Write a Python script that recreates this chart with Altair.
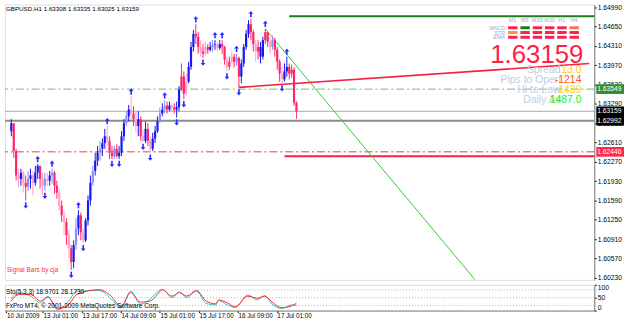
import altair as alt
import pandas as pd

FONT = "Liberation Sans"

# ---------------- price data: GBPUSD H1 (one entry per bar) ----------------
first_open = 1.6281
high = [1.6302, 1.6295, 1.6250, 1.6215, 1.6215, 1.6211, 1.6203, 1.6211, 1.6215, 1.6211,
        1.6220, 1.6223, 1.6220, 1.6208, 1.6208, 1.6208, 1.6211, 1.6215, 1.6211, 1.6194,
        1.6180, 1.6159, 1.6142, 1.6128, 1.6107, 1.6081, 1.6089, 1.6128, 1.6142, 1.6138,
        1.6110, 1.6128, 1.6168, 1.6203, 1.6220, 1.6243, 1.6255, 1.6264, 1.6268, 1.6285,
        1.6290, 1.6272, 1.6255, 1.6255, 1.6258, 1.6255, 1.6281, 1.6302, 1.6316, 1.6327,
        1.6342, 1.6325, 1.6316, 1.6316, 1.6307, 1.6285, 1.6298, 1.6295, 1.6272, 1.6278,
        1.6290, 1.6307, 1.6323, 1.6330, 1.6335, 1.6333, 1.6333, 1.6330, 1.6330, 1.6333,
        1.6360, 1.6400, 1.6386, 1.6382, 1.6403, 1.6438, 1.6459, 1.6469, 1.6455, 1.6441,
        1.6434, 1.6438, 1.6434, 1.6438, 1.6441, 1.6441, 1.6438, 1.6441, 1.6441, 1.6431,
        1.6412, 1.6412, 1.6421, 1.6417, 1.6417, 1.6412, 1.6407, 1.6434, 1.6459, 1.6476,
        1.6478, 1.6459, 1.6441, 1.6441, 1.6438, 1.6447, 1.6461, 1.6455, 1.6447, 1.6449,
        1.6445, 1.6429, 1.6407, 1.6394, 1.6400, 1.6412, 1.6400, 1.6398, 1.6393, 1.63335]
low = [1.6272, 1.6234, 1.6194, 1.6182, 1.6185, 1.6173, 1.6159, 1.6176, 1.6180, 1.6168,
       1.6185, 1.6197, 1.6180, 1.6168, 1.6176, 1.6185, 1.6185, 1.6189, 1.6171, 1.6162,
       1.6142, 1.6121, 1.6098, 1.6081, 1.6058, 1.6037, 1.6040, 1.6072, 1.6098, 1.6089,
       1.6084, 1.6086, 1.6115, 1.6150, 1.6185, 1.6203, 1.6220, 1.6229, 1.6237, 1.6250,
       1.6255, 1.6232, 1.6232, 1.6232, 1.6234, 1.6232, 1.6237, 1.6264, 1.6290, 1.6298,
       1.6302, 1.6290, 1.6278, 1.6272, 1.6264, 1.6262, 1.6260, 1.6255, 1.6243, 1.6246,
       1.6260, 1.6278, 1.6295, 1.6307, 1.6312, 1.6312, 1.6316, 1.6316, 1.6312, 1.6305,
       1.6316, 1.6351, 1.6337, 1.6344, 1.6365, 1.6389, 1.6421, 1.6434, 1.6417, 1.6412,
       1.6410, 1.6414, 1.6417, 1.6421, 1.6421, 1.6424, 1.6421, 1.6424, 1.6417, 1.6398,
       1.6386, 1.6389, 1.6400, 1.6393, 1.6396, 1.6358, 1.6365, 1.6394, 1.6424, 1.6445,
       1.6441, 1.6421, 1.6403, 1.6407, 1.6400, 1.6407, 1.6434, 1.6429, 1.6417, 1.6424,
       1.6412, 1.6389, 1.6368, 1.6365, 1.6368, 1.6377, 1.6372, 1.6375, 1.6326, 1.63025]
close = [1.6295, 1.6246, 1.6203, 1.6197, 1.6208, 1.6190, 1.6183, 1.6197, 1.6203, 1.6190,
         1.6208, 1.6220, 1.6197, 1.6185, 1.6197, 1.6194, 1.6203, 1.6208, 1.6185, 1.6173,
         1.6150, 1.6133, 1.6121, 1.6098, 1.6075, 1.6051, 1.6081, 1.6110, 1.6133, 1.6103,
         1.6089, 1.6124, 1.6159, 1.6190, 1.6211, 1.6229, 1.6243, 1.6250, 1.6260, 1.6272,
         1.6264, 1.6243, 1.6237, 1.6250, 1.6237, 1.6243, 1.6272, 1.6295, 1.6307, 1.6319,
         1.6312, 1.6302, 1.6290, 1.6302, 1.6272, 1.6264, 1.6285, 1.6264, 1.6250, 1.6268,
         1.6281, 1.6298, 1.6312, 1.6319, 1.6326, 1.6319, 1.6326, 1.6323, 1.6319, 1.6323,
         1.6354, 1.6377, 1.6347, 1.6368, 1.6394, 1.6429, 1.6452, 1.6447, 1.6429, 1.6421,
         1.6417, 1.6429, 1.6424, 1.6429, 1.6433, 1.6434, 1.6427, 1.6434, 1.6429, 1.6407,
         1.6394, 1.6403, 1.6412, 1.6403, 1.6410, 1.6377, 1.6400, 1.6429, 1.6452, 1.6469,
         1.6455, 1.6434, 1.6421, 1.6429, 1.6412, 1.6441, 1.6455, 1.6438, 1.6429, 1.6441,
         1.6424, 1.6403, 1.6382, 1.6372, 1.6386, 1.6394, 1.6382, 1.6389, 1.63308, 1.63159]

# Signal Bars colour per bar: B strong up, b weak up, P strong down, p weak down
signal = list("BPPpBpPbBp" "BBPpbpBbPP" "pPpPpPBbBP" "pBBBbBBbBB"
              "pPPbPBBBbB" "pPpBPpBPpB" "BBbBbPBpPB" "BPPpBBBPPp"
              "PpPBbBpBPP" "pPpPbPBBBB" "PPpPBBPPpb" "PPPpBBPPPP")

up_fractals = [11, 17, 28, 40, 50, 64, 77, 85, 88, 94, 100, 106, 115]
down_fractals = [6, 14, 25, 30, 42, 45, 55, 58, 69, 72, 80, 90, 95, 113]

# Stochastic (5,3,3)
stoch_idx = [2, 5, 10, 14, 17, 21, 25, 29, 38, 43, 47, 51, 55, 59, 62, 64, 68, 71, 74, 78,
             82, 86, 87, 90, 94, 99, 103, 106, 109, 113, 117, 119]
stoch_red = [37, 63, 63, 37, 52, 7, 18, 63, 81, 56, 15, 70, 33, 37, 63, 81, 56, 70, 56, 78,
             37, 26, 41, 33, 15, 56, 48, 56, 33, 11, 18, 28.17]
stoch_cyan = [45, 70, 55, 30, 55, 3, 30, 75, 78, 45, 10, 75, 25, 45, 72, 82, 50, 72, 50, 75,
              28, 22, 40, 25, 12, 60, 42, 58, 25, 8, 22, 18.97]
stoch_levels = [80, 50, 20]

price_ticks = [1.64990, 1.64650, 1.64310, 1.63970, 1.63630, 1.63290, 1.62950, 1.62610,
               1.62270, 1.61930, 1.61590, 1.61250, 1.60910, 1.60570, 1.60230]
time_idx = [0, 15, 31, 47, 63, 79, 95, 111]
time_labels = ["10 Jul 2009", "13 Jul 01:00", "13 Jul 17:00", "14 Jul 09:00",
               "15 Jul 01:00", "15 Jul 17:00", "16 Jul 09:00", "17 Jul 01:00"]

# horizontal levels / objects
level_dark_green = 1.6483
level_dark_green_from = 116
level_green_dash = 1.63549
level_bid = 1.63159
level_gray = 1.62992
level_red_dash = 1.62446
level_red = 1.6237
level_red_from = 114
green_trend_i = [106, 193.5]
green_trend_p = [1.6461, 1.6020]
red_trend_i = [95, 241.27]
red_trend_p = [1.6358, 1.6400]

box_prices = [1.63549, 1.63159, 1.62992, 1.62446]
box_colors = ["#2f8f2f", "#000000", "#000000", "#ff2a4a"]

# info panel
tf_names = ["M1", "M5", "M15", "M30", "H1", "H4"]
ind_names = ["MACD", "STR", "EMA"]
grid_colors = [
    ["#ff2050", "#108010", "#ff2050", "#ff2050", "#ff2050", "#ff7060"],
    ["#ff9a20", "#ff2050", "#ff2050", "#ff2050", "#ff2050", "#ff2050"],
    ["#ff2050", "#ff2050", "#ff2050", "#ff2050", "#ff2050", "#ff2050"],
]
big_price = "1.63159"
info_labels = ["Spread", "Pips to Open", "Hi to Low", "Daily Av"]
info_values = ["13.0", "-1214", "1439", "1487.0"]
info_colors = ["#ffc820", "#ff5522", "#ffd21e", "#22ee22"]
title_text = "GBPUSD,H1  1.63308 1.63335 1.63025 1.63159"
signal_text = "Signal Bars by cja"
sto_text = "Sto(5,3,3) 18.9701 28.1730"
copy_text = "FxPro MT4, \u00a9 2001-2009 MetaQuotes Software Corp."

# ---------------- build ----------------
W, H_MAIN, H_STO = 595, 278, 26

n = len(close)
df = pd.DataFrame({"i": list(range(n)), "o": [first_open] + close[:-1], "h": high, "l": low,
                   "c": close, "sig": signal[:n]})

xscale = alt.Scale(domain=[-0.6, 241.27], nice=False, zero=False)
yscale = alt.Scale(domain=[1.60195, 1.65037], nice=False, zero=False)
yaxis = alt.Axis(orient="right", values=price_ticks, format=".5f", labelFont=FONT,
                 labelFontSize=6.8, labelColor="black", tickSize=2, tickColor="#000",
                 labelPadding=1, domainColor="#808080", grid=False, labelOverlap=False,
                 labelBaseline="middle", title=None)


def PX(f):
    return alt.X(f, type="quantitative", scale=xscale, axis=None, title=None)


def PY(f):
    return alt.Y(f, type="quantitative", scale=yscale, axis=yaxis, title=None)


one = alt.Data(values=[{}])
color_enc = alt.Color("sig:N", scale=alt.Scale(domain=["B", "b", "P", "p"],
                                               range=["#1818f0", "#8c8cff", "#ff2468", "#ffa0c4"]),
                      legend=None)

base = alt.Chart(df)
wicks = base.mark_rule(strokeWidth=1).encode(x=PX("i"), y=PY("l"), y2="h", color=color_enc)
bodies = base.mark_bar(size=2.2).encode(x=PX("i"), y=PY("o"), y2="c", color=color_enc)

up_df = df[df.i.isin(up_fractals)][["i", "h"]].rename(columns={"h": "p"})
dn_df = df[df.i.isin(down_fractals)][["i", "l"]].rename(columns={"l": "p"})
UP_SHAPE = "M0,-1 L0.75,-0.1 L0.25,-0.1 L0.25,1 L-0.25,1 L-0.25,-0.1 L-0.75,-0.1 Z"
DN_SHAPE = "M0,1 L0.75,0.1 L0.25,0.1 L0.25,-1 L-0.25,-1 L-0.25,0.1 L-0.75,0.1 Z"
up_arrows = alt.Chart(up_df).mark_point(shape=UP_SHAPE, filled=True, size=40, color="#2a2aff",
                                       opacity=1, yOffset=-5).encode(x=PX("i"), y=PY("p"))
dn_arrows = alt.Chart(dn_df).mark_point(shape=DN_SHAPE, filled=True, size=40, color="#2a2aff",
                                       opacity=1, yOffset=5).encode(x=PX("i"), y=PY("p"))


def hline(p, color, width=1, dash=None, start=None):
    d = {"p": [p]}
    kw = dict(color=color, strokeWidth=width)
    if dash:
        kw["strokeDash"] = dash
    enc = dict(y=PY("p"))
    if start is not None:
        d["x0"] = [start]
        enc["x"] = PX("x0")
        enc["x2"] = alt.value(W)
    return alt.Chart(pd.DataFrame(d)).mark_rule(**kw).encode(**enc)


lines = [
    hline(level_bid, "#a8a8a8", 1),
    hline(level_gray, "#8c8c8c", 2),
    hline(level_green_dash, "#6cc06c", 1, [8, 3, 2, 3]),
    hline(level_red_dash, "#e84040", 1, [8, 3, 2, 3]),
    hline(level_dark_green, "#1e7e1e", 2, None, level_dark_green_from),
    hline(level_red, "#f0204a", 2, None, level_red_from),
]

gtr = alt.Chart(pd.DataFrame({"i": green_trend_i, "p": green_trend_p})).mark_line(
    color="#2ecc2e", strokeWidth=1, clip=True).encode(x=PX("i"), y=PY("p"))
rtr = alt.Chart(pd.DataFrame({"i": red_trend_i, "p": red_trend_p})).mark_line(
    color="#f42040", strokeWidth=1.6, clip=True).encode(x=PX("i"), y=PY("p"))

bdf = pd.DataFrame({"p": box_prices, "bg": box_colors})
bdf["top"] = bdf.p + 0.00085
bdf["bot"] = bdf.p - 0.00085
bdf["label"] = [f"{p:.5f}" for p in box_prices]
boxes = alt.Chart(bdf).mark_rect().encode(
    y=PY("top"), y2="bot", x=alt.value(W + 2), x2=alt.value(W + 30),
    color=alt.Color("bg:N", scale=None))
box_txt = alt.Chart(bdf).mark_text(align="left", baseline="middle", font=FONT, fontSize=6.8,
                                   color="white").encode(x=alt.value(W + 3), y=PY("p"), text="label")


def txt(s, x, y, size, color, align="left", baseline="middle", weight="normal"):
    return alt.Chart(one).mark_text(align=align, baseline=baseline, font=FONT, fontSize=size,
                                    color=color, fontWeight=weight).encode(
        x=alt.value(x), y=alt.value(y), text=alt.value(s))


panel = []
for k, tf in enumerate(tf_names):
    panel.append(txt(tf, 512.5 + 12.4 * k, 16, 5.5, "#9fa8d0", align="center"))
for r, name in enumerate(ind_names):
    panel.append(txt(name, 505, 23.5 + 4.8 * r, 5.5, "#9fa8d0", align="right"))
    for k in range(len(tf_names)):
        x0 = 508 + 12.4 * k
        y0 = 22 + 4.8 * r
        panel.append(alt.Chart(one).mark_rect(color=grid_colors[r][k]).encode(
            x=alt.value(x0), x2=alt.value(x0 + 9.5), y=alt.value(y0), y2=alt.value(y0 + 3)))
panel.append(txt(big_price, 537, 59, 26, "#ff1e46", align="center", baseline="alphabetic"))
for k, (lab, val, col) in enumerate(zip(info_labels, info_values, info_colors)):
    panel.append(txt(lab, 561, 66 + 10 * k, 10.5, "#c4cbe4", align="right"))
    panel.append(txt(val, 582, 66 + 10 * k, 10.5, col, align="right"))

texts = [
    txt(title_text, 1, 5, 6.3, "#000"),
    txt(signal_text, 2, 268, 6.5, "#ff3030"),
]

top = alt.layer(*lines, gtr, rtr, wicks, bodies, up_arrows, dn_arrows, boxes, box_txt,
                *panel, *texts).properties(width=W, height=H_MAIN)

# ---------------- stochastic panel ----------------
label_expr = " : ".join(f"datum.value == {i} ? '{t}'" for i, t in zip(time_idx, time_labels)) + " : ''"
sx = alt.X("i:Q", scale=xscale, title=None,
           axis=alt.Axis(values=time_idx, labelExpr=label_expr, labelAlign="left", labelFont=FONT,
                         labelFontSize=6.4, labelColor="#000", tickSize=2, tickColor="#000",
                         labelPadding=3, labelBaseline="middle", domainColor="#808080",
                         grid=False, labelOverlap=False, labelFlush=False))
sy_scale = alt.Scale(domain=[0, 100], nice=False, zero=False)
sy_axis = alt.Axis(orient="right", values=[0, 50, 100], labelFont=FONT, labelFontSize=6.8,
                   labelColor="#000", tickSize=2, tickColor="#000", labelPadding=1,
                   domainColor="#808080", grid=False, labelFlush=True, title=None)

sdf = pd.DataFrame({"i": stoch_idx, "red": stoch_red, "cyan": stoch_cyan})
lvl = alt.Chart(pd.DataFrame({"v": stoch_levels})).mark_rule(
    color="#b0b0b0", strokeDash=[1, 2], strokeWidth=1).encode(
    y=alt.Y("v:Q", scale=sy_scale, axis=sy_axis))
cyan_line = alt.Chart(sdf).mark_line(color="#30c8c8", strokeWidth=1, interpolate="monotone").encode(
    x=sx, y=alt.Y("cyan:Q", scale=sy_scale, axis=sy_axis))
red_line = alt.Chart(sdf).mark_line(color="#ff2a2a", strokeWidth=1, interpolate="monotone").encode(
    x=sx, y=alt.Y("red:Q", scale=sy_scale, axis=sy_axis))
bottom = alt.layer(lvl, cyan_line, red_line,
                   txt(sto_text, 1, 7, 6.5, "#000"),
                   txt(copy_text, 1, 21, 6.5, "#000")).properties(width=W, height=H_STO)

chart = alt.vconcat(top, bottom, spacing=1).properties(
    padding={"left": 3, "top": 2, "right": 0, "bottom": 0}
).configure_view(stroke="#808080", strokeWidth=1).configure(background="white")

chart.save("out.html", embed_options={"renderer": "svg", "actions": False})
